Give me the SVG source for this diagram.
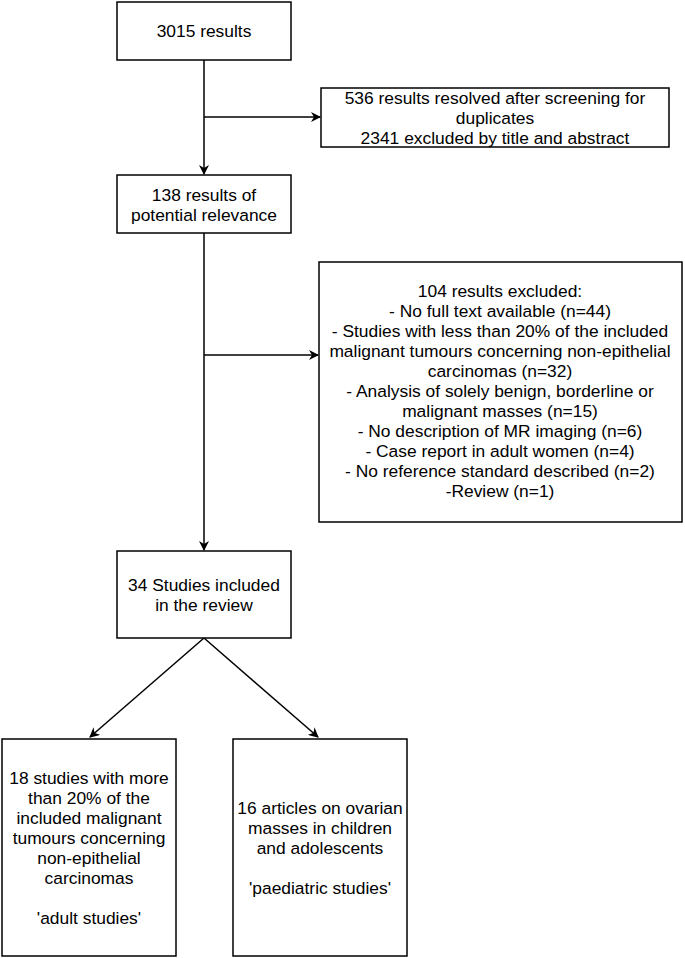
<svg xmlns="http://www.w3.org/2000/svg" width="685" height="958" viewBox="0 0 685 958">
<style>
.box{fill:#fff;stroke:#000;stroke-width:1.5}
.t{font-family:"Liberation Sans",Arial,Helvetica,sans-serif;font-size:17.4px;fill:#000;text-anchor:middle}
.c{fill:none;stroke:#000;stroke-width:1.5}
</style>
<defs>
<marker id="ah" viewBox="0 0 10 10" refX="9" refY="5" markerWidth="10" markerHeight="10" markerUnits="userSpaceOnUse" orient="auto">
<path d="M0,0 L10,5 L0,10 L3,5 z" fill="#000"/>
</marker>
</defs>
<rect width="685" height="958" fill="#fff"/>
<g id="connectors">
<line class="c" x1="204" y1="60" x2="204" y2="174" marker-end="url(#ah)"/>
<line class="c" x1="204" y1="117" x2="320" y2="117" marker-end="url(#ah)"/>
<line class="c" x1="204" y1="233" x2="204" y2="550" marker-end="url(#ah)"/>
<line class="c" x1="204" y1="355" x2="318" y2="355" marker-end="url(#ah)"/>
<line class="c" x1="204" y1="638" x2="90" y2="737" marker-end="url(#ah)"/>
<line class="c" x1="204" y1="638" x2="318" y2="737" marker-end="url(#ah)"/>
</g>
<g id="n1">
<rect class="box" x="117" y="2" width="174" height="58"/>
<text class="t" x="204" y="37">3015 results</text>
</g>
<g id="n2">
<rect class="box" x="321" y="88" width="348" height="59"/>
<text class="t" x="495" y="104">536 results resolved after screening for</text>
<text class="t" x="495" y="124">duplicates</text>
<text class="t" x="495" y="144">2341 excluded by title and abstract</text>
</g>
<g id="n3">
<rect class="box" x="117" y="175" width="174" height="58"/>
<text class="t" x="204" y="201">138 results of</text>
<text class="t" x="204" y="221">potential relevance</text>
</g>
<g id="n4">
<rect class="box" x="319" y="262" width="363" height="260"/>
<text class="t" x="500" y="297">104 results excluded:</text>
<text class="t" x="500" y="317">- No full text available (n=44)</text>
<text class="t" x="500" y="337">- Studies with less than 20% of the included</text>
<text class="t" x="500" y="357">malignant tumours concerning non-epithelial</text>
<text class="t" x="500" y="377">carcinomas (n=32)</text>
<text class="t" x="500" y="397">- Analysis of solely benign, borderline or</text>
<text class="t" x="500" y="417">malignant masses (n=15)</text>
<text class="t" x="500" y="437">- No description of MR imaging (n=6)</text>
<text class="t" x="500" y="457">- Case report in adult women (n=4)</text>
<text class="t" x="500" y="477">- No reference standard described (n=2)</text>
<text class="t" x="500" y="497">-Review (n=1)</text>
</g>
<g id="n5">
<rect class="box" x="117" y="551" width="174" height="87"/>
<text class="t" x="204" y="591">34 Studies included</text>
<text class="t" x="204" y="611">in the review</text>
</g>
<g id="n6">
<rect class="box" x="2" y="739" width="174" height="217"/>
<text class="t" x="89" y="784">18 studies with more</text>
<text class="t" x="89" y="804">than 20% of the</text>
<text class="t" x="89" y="824">included malignant</text>
<text class="t" x="89" y="844">tumours concerning</text>
<text class="t" x="89" y="864">non-epithelial</text>
<text class="t" x="89" y="884">carcinomas</text>
<text class="t" x="89" y="924">'adult studies'</text>
</g>
<g id="n7">
<rect class="box" x="233" y="739" width="174" height="217"/>
<text class="t" x="320" y="814">16 articles on ovarian</text>
<text class="t" x="320" y="834">masses in children</text>
<text class="t" x="320" y="854">and adolescents</text>
<text class="t" x="320" y="894">'paediatric studies'</text>
</g>
</svg>
